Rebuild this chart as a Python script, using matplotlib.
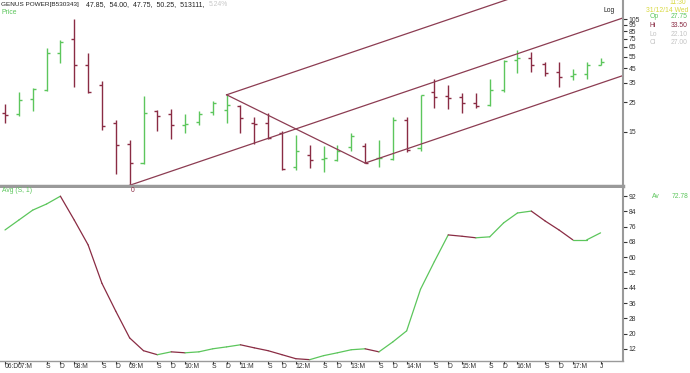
import numpy as np
import matplotlib
matplotlib.use('Agg')
import matplotlib.pyplot as plt

plt.rcParams['font.family'] = ['Liberation Sans', 'DejaVu Sans']

# ---------------- data ----------------
axis_labels = ['06:D', '07:M', '', 'S', 'D', '08:M', '', 'S', 'D', '09:M', '', 'S', 'D',
               '10:M', '', 'S', 'D', '11:M', '', 'S', 'D', '12:M', '', 'S', 'D',
               '13:M', '', 'S', 'D', '14:M', '', 'S', 'D', '15:M', '', 'S', 'D',
               '16:M', '', 'S', 'D', '17:M', '', 'J']
opens = [20.9, 20.3, 26.3, 30.9, 58.2, 74.1, 47.6, 33.7, 17.4, 12.1, 8.74, 21.3, 20.3,
         16.9, 17.8, 21.0, 21.9, 23.5, 17.4, 17.4, 14.6, 8.14, 10.1, 9.37, 9.2, 11.5,
         11.8, 9.5, 9.37, 18.4, 11.3, 30.0, 27.75, 27.2, 24.6, 23.9, 30.9, 51.9, 53.4,
         48.4, 42.4, 39.3, 40.4, 47.85]
highs = [24.1, 30.0, 32.2, 64.1, 73.2, 104.6, 58.8, 36.1, 18.4, 13.05, 27.9, 21.9, 22.2,
         20.3, 21.3, 25.3, 28.4, 23.9, 19.5, 20.7, 15.1, 14.2, 11.98, 11.8, 11.98, 14.8,
         12.3, 13.05, 19.5, 19.2, 28.4, 37.2, 33.5, 29.2, 29.5, 37.2, 51.9, 61.6, 59.8,
         50.3, 50.3, 44.2, 50.3, 54.0]
lows = [17.6, 19.7, 21.5, 30.4, 49.5, 32.7, 29.5, 15.5, 7.26, 5.95, 8.63, 15.2, 13.2,
        14.6, 16.9, 20.1, 17.6, 14.8, 12.2, 13.2, 7.78, 7.78, 8.0, 7.43, 8.98, 10.85,
        8.74, 8.14, 9.26, 10.5, 10.8, 22.8, 22.1, 20.7, 22.5, 23.6, 30.0, 41.2, 42.4,
        39.3, 32.7, 36.7, 37.2, 47.75]
closes = [20.1, 26.0, 31.4, 58.2, 71.1, 47.6, 30.0, 16.6, 11.98, 8.74, 20.7, 19.8, 16.9,
          17.1, 20.3, 24.6, 23.9, 19.0, 17.1, 13.4, 7.87, 10.8, 9.26, 9.47, 10.8, 14.0,
          8.74, 9.6, 18.4, 11.0, 28.4, 27.2, 27.0, 24.6, 23.5, 30.9, 51.2, 53.4, 47.6,
          41.2, 38.5, 40.4, 47.6, 50.25]
avg_vals = [74.3, 79.5, 84.7, 87.9, 92.0, 79.5, 66.5, 46.3, 31.7, 17.7, 11.0, 8.9, 10.4,
            9.9, 10.4, 12.0, 13.0, 14.1, 12.5, 11.0, 8.9, 6.8, 6.3, 8.4, 9.9, 11.5,
            12.0, 10.4, 15.6, 21.4, 43.2, 57.7, 71.7, 71.0, 70.2, 70.7, 78.0, 83.2, 84.2,
            79.0, 74.3, 69.1, 69.1, 72.78]
price_ticks = [105, 95, 85, 75, 65, 55, 45, 35, 25, 15]
avg_ticks = [92, 84, 76, 68, 60, 52, 44, 36, 28, 20, 12]
pivot_idx = [9, 16, 26]          # pitchfork pivots: low, high, low

GREEN = '#5cc65c'
RED = '#8a2c44'
LINE = '#8c3c52'
AXC = '#9a9a9a'
TXT = '#333333'
FS = 4.9

W, H = 690, 373
fig = plt.figure(figsize=(W / 100, H / 100), dpi=100)
right_px = 623
ax1 = fig.add_axes([0, 1 - 186 / H, right_px / W, 186 / H])
ax2 = fig.add_axes([0, 1 - 361 / H, right_px / W, (361 - 188) / H])

n = len(opens)
x = np.arange(n)
step = 13.85
xlim = (-5 / step, (right_px - 5) / step)

# ---------------- price panel ----------------
o = np.array(opens); h = np.array(highs); l = np.array(lows); c = np.array(closes)
cols = [GREEN if cc >= oo else RED for oo, cc in zip(o, c)]
tick_w = 0.22
ax1.vlines(x, l, h, colors=cols, lw=1.0)
ax1.hlines(o, x - tick_w, x, colors=cols, lw=1.0)
ax1.hlines(c, x, x + tick_w, colors=cols, lw=1.0)
ax1.set_yscale('log')
ax1.set_ylim(5.88, 146)
ax1.set_xlim(*xlim)

# Andrews pitchfork
pa = (pivot_idx[0], np.log(l[pivot_idx[0]]))
pb = (pivot_idx[1], np.log(h[pivot_idx[1]]))
pc = (pivot_idx[2], np.log(l[pivot_idx[2]]))
mid = ((pb[0] + pc[0]) / 2, (pb[1] + pc[1]) / 2)
slope = (mid[1] - pa[1]) / (mid[0] - pa[0])
xe = xlim[1]
for (px, py) in [pa, pb, pc]:
    ax1.plot([px, xe], [np.exp(py), np.exp(py + slope * (xe - px))], color=LINE, lw=0.9)
ax1.plot([pb[0], pc[0]], [np.exp(pb[1]), np.exp(pc[1])], color=LINE, lw=0.9)

ax1.yaxis.tick_right()
ax1.set_yticks(price_ticks)
ax1.set_yticklabels([str(t) for t in price_ticks])
ax1.yaxis.set_minor_locator(matplotlib.ticker.NullLocator())
ax1.tick_params(axis='y', direction='out', length=3, width=0.8, color=TXT,
                labelsize=FS, labelcolor=TXT, pad=1)
ax1.set_xticks([])
for s in ['top', 'left']:
    ax1.spines[s].set_visible(False)
ax1.spines['right'].set_color(AXC)
ax1.spines['right'].set_linewidth(1.5)
ax1.spines['bottom'].set_color(AXC)
ax1.spines['bottom'].set_linewidth(2.5)

# ---------------- avg panel ----------------
av = np.array(avg_vals)
for i in range(n - 1):
    col = GREEN if av[i + 1] >= av[i] else RED
    ax2.plot([x[i], x[i + 1]], [av[i], av[i + 1]], color=col, lw=0.9,
             solid_capstyle='round')
ax2.set_xlim(*xlim)
ax2.set_ylim(5.6, 96.3)
ax2.yaxis.tick_right()
ax2.set_yticks(avg_ticks)
ax2.set_yticklabels([str(t) for t in avg_ticks])
ax2.tick_params(axis='y', direction='out', length=3, width=0.8, color=TXT,
                labelsize=FS, labelcolor=TXT, pad=1)
lab_pos = [i for i, s in enumerate(axis_labels) if s]
ax2.set_xticks(lab_pos)
ax2.set_xticklabels([])
ax2.tick_params(axis='x', direction='out', length=2.5, width=0.8, color=TXT)
for i in lab_pos:
    ax2.text(i - 0.05, -(367 - 361) / 173, axis_labels[i], transform=ax2.get_xaxis_transform(),
             ha='left', va='center', fontsize=FS, color=TXT)
for s in ['top', 'left']:
    ax2.spines[s].set_visible(False)
ax2.spines['right'].set_color(AXC)
ax2.spines['right'].set_linewidth(1.5)
ax2.spines['bottom'].set_color(AXC)
ax2.spines['bottom'].set_linewidth(1.0)

# ---------------- texts ----------------
def ftext(px, py, s, color=TXT, ha='left', size=FS):
    fig.text(px / W, 1 - py / H, s, color=color, ha=ha, va='center', fontsize=size)

ftext(1, 4.5, 'GENUS POWER[B530343]', color='#222222', size=4.6)
ftext(86, 4.5, '47.85,  54.00,  47.75,  50.25,  513111,', color='#222222', size=5.0)
ftext(209, 4.5, '5.24%', color='#c8c8c8')
ftext(2, 13, 'Price', color=GREEN)
ftext(604, 11, 'Log', color='#222222')
ftext(686, 2.5, '11:30', color='#d8d840', ha='right')
ftext(688, 10, '31/12/14 Wed', color='#d8d840', ha='right')
info = [('Op', '27.75', GREEN, GREEN), ('Hi', '33.50', RED, RED),
        ('Lo', '22.10', '#c4c4c4', '#c4c4c4'), ('Cl', '27.00', '#c4c4c4', '#c4c4c4')]
for k, (a, b, ca, cb) in enumerate(info):
    ftext(650, 17 + k * 8.5, a, color=ca)
    ftext(688, 17 + k * 8.5, b, color=cb, ha='right')
ftext(2, 191, 'Avg (S, 1)', color=GREEN)
ftext(652, 196, 'Av', color=GREEN)
ftext(688, 196, '72.78', color=GREEN, ha='right')
fig.text((5 + step * pivot_idx[0] + 3) / W, 1 - 191 / H, '0', fontsize=FS, color=RED,
         ha='center', va='center')

fig.savefig('out.png', dpi=100)
